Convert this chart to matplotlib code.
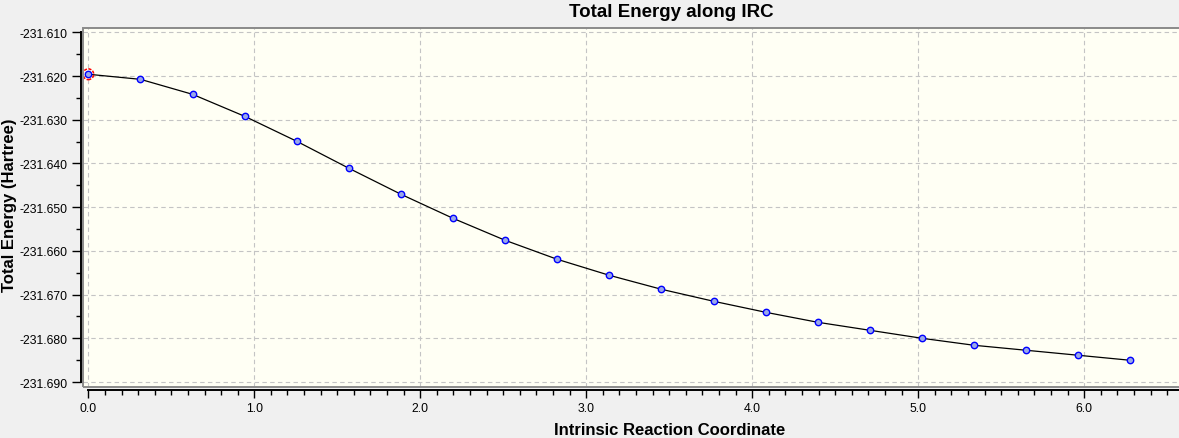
import matplotlib
matplotlib.use("Agg")
import matplotlib.pyplot as plt
from matplotlib.ticker import MultipleLocator, FormatStrFormatter
from matplotlib.patches import Rectangle

plt.rcParams['font.family'] = ['Liberation Sans', 'DejaVu Sans']

# ---- data ----
irc_coord = [0.000, 0.314, 0.628, 0.942, 1.256, 1.570, 1.884, 2.197, 2.511,
             2.825, 3.139, 3.453, 3.767, 4.081, 4.395, 4.709, 5.023, 5.337,
             5.651, 5.964, 6.278]
total_energy = [-231.61960, -231.62076, -231.62419, -231.62922, -231.63494,
                -231.64111, -231.64706, -231.65255, -231.65758, -231.66193,
                -231.66559, -231.66879, -231.67153, -231.67405, -231.67634,
                -231.67817, -231.68000, -231.68160, -231.68274, -231.68388,
                -231.68503]
highlight_index = 0

title_text = "Total Energy along IRC"
xlabel_text = "Intrinsic Reaction Coordinate"
ylabel_text = "Total Energy (Hartree)"

W, H = 1179, 439
fig = plt.figure(figsize=(W / 100, H / 100), dpi=100, facecolor='#F0F0F0')

left_px, right_px, top_px, bottom_px = 83, 1186, 29, 388
ax = fig.add_axes([left_px / W, 1 - bottom_px / H,
                   (right_px - left_px) / W, (bottom_px - top_px) / H])
ax.set_facecolor('#FFFFF4')

ax.set_xlim(-0.032, 6.613)
ax.set_ylim(-231.69114, -231.60902)

# grid
ax.xaxis.set_major_locator(MultipleLocator(1.0))
ax.xaxis.set_minor_locator(MultipleLocator(0.1))
ax.yaxis.set_major_locator(MultipleLocator(0.010))
ax.yaxis.set_minor_locator(MultipleLocator(0.005))
ax.xaxis.set_major_formatter(FormatStrFormatter('%.1f'))
ax.yaxis.set_major_formatter(FormatStrFormatter('%.3f'))
ax.grid(True, which='major', color='#C4C4C4', linestyle=(0, (4, 3)), linewidth=0.8)
ax.set_axisbelow(True)

# data
ax.plot(irc_coord, total_energy, color='black', lw=0.9, zorder=3)
ax.plot(irc_coord, total_energy, linestyle='none', marker='o', ms=4.6,
        mfc='#9AA8E8', mec='#0000FF', mew=1.0, zorder=4)
ax.scatter([irc_coord[highlight_index]], [total_energy[highlight_index]],
           s=60, facecolors='none', edgecolors='#FF0000', linewidths=1.1,
           linestyles=(0, (2, 1)), zorder=5, clip_on=False)

# spines: offset black axes + gray frame
for s in ('top', 'right'):
    ax.spines[s].set_visible(False)
ax.spines['left'].set_position(('outward', 1.5))
ax.spines['bottom'].set_position(('outward', 2.0))
ax.spines['left'].set_color('black')
ax.spines['bottom'].set_color('black')
ax.spines['left'].set_linewidth(1.4)
ax.spines['bottom'].set_linewidth(1.4)
ax.spines['left'].set_bounds(-231.690, -231.610)
ax.spines['bottom'].set_bounds(0.0, 6.613)

frame = Rectangle((0, 0), 1, 1, transform=ax.transAxes, fill=False,
                  edgecolor='#8A8A8A', lw=1.4, clip_on=False, zorder=6)
ax.add_patch(frame)

ax.tick_params(axis='y', which='major', direction='out', length=6.5, width=1.0,
               pad=3, labelsize=8.8, colors='black')
ax.tick_params(axis='y', which='minor', direction='out', length=3.6, width=1.0)
ax.tick_params(axis='x', which='major', direction='out', length=6.0, width=1.0,
               pad=2.5, labelsize=8.8, colors='black')
ax.tick_params(axis='x', which='minor', direction='out', length=3.6, width=1.0)

# texts
fig.text(671.5 / W, 1 - 16.7 / H, title_text, ha='center', va='baseline',
         fontsize=13.5, fontweight='bold')
fig.text(670 / W, 1 - 435 / H, xlabel_text, ha='center', va='baseline',
         fontsize=12, fontweight='bold')
fig.text(17.5 / W, 1 - 205.5 / H, ylabel_text, ha='right', va='center',
         rotation=90, fontsize=12, fontweight='bold')

fig.savefig('out.png', dpi=100, facecolor=fig.get_facecolor())
